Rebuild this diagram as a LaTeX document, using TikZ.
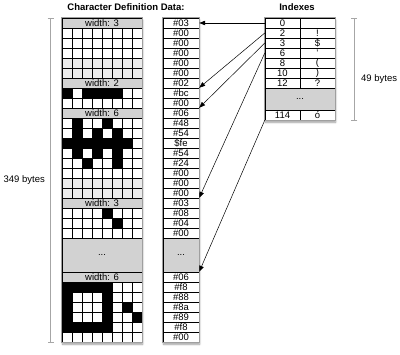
\documentclass[tikz,border=0pt]{standalone}
\usepackage{fontspec}
\setmainfont{Liberation Sans}
\usepackage{xcolor}
\usepackage{tikz}
\usetikzlibrary{arrows.meta,positioning,shadows.blur}

\newcommand\cellfont{\fontsize{9.5}{10}\selectfont}

\tikzset{
  colframe/.style={draw=gray!75,line width=0.8pt,fill=white,inner sep=0pt,
    blur shadow={shadow xshift=0.6pt,shadow yshift=-2.2pt,shadow blur steps=6,shadow blur radius=2pt}},
  frameline/.style={draw=gray!75,line width=0.8pt},
  cellline/.style={black,line width=0.45pt},
  hdr/.style={draw,line width=0.45pt,fill=gray!35,minimum width=80pt,minimum height=10pt,inner sep=0pt,font=\cellfont},
  byterow/.style={draw,line width=0.45pt,fill=white,minimum width=36pt,minimum height=10pt,inner sep=0pt,font=\cellfont},
  idxrow/.style={draw,line width=0.45pt,fill=white,minimum width=35pt,minimum height=10pt,inner sep=0pt,font=\cellfont},
  dotsbox/.style={draw,line width=0.45pt,fill=gray!35,inner sep=0pt,font=\cellfont},
  ptr/.style={black,line width=0.5pt,-{Triangle[length=6pt,width=4.5pt]}},
  dimline/.style={draw=gray!70,line width=0.8pt,{Bar[width=6pt]}-{Bar[width=6pt]}},
  title/.style={font=\fontsize{9.5}{10}\selectfont\bfseries,inner sep=0pt}
}

\begin{document}
\begin{tikzpicture}[x=1pt,y=-1pt]
\useasboundingbox (0,0) rectangle (400,355);

% frames
\node[colframe,minimum width=80pt,minimum height=324pt] (chars) at (102,180) {};
\node[colframe,minimum width=36pt,minimum height=324pt] (bytes) at (181,180) {};
\node[colframe,minimum width=70pt,minimum height=102pt] (idx) at (300,69) {};

% glyph bitmaps
\fill[gray!15] (62,58) rectangle (142,78);
\fill[gray!15] (62,178) rectangle (142,198);
\foreach \y/\cs in {88/{0,2,3,4,5},118/{1,4},128/{1,3,5},138/{0,1,2,3,4,5,6},148/{1,3,5},158/{2,5},
                    208/{4},218/{5},282/{0,1,2,3,4},292/{0,4},302/{0,4,6},312/{0,4,7},322/{0,1,2,3,4}}{
  \foreach \c in \cs
    \fill ({62+10*\c},\y) rectangle ++(10,10);
}
\foreach \x in {62,72,...,142}{
  \draw[cellline] (\x,18) -- (\x,238);
  \draw[cellline] (\x,272) -- (\x,342);
}
\foreach \y in {28,38,...,238}
  \draw[cellline] (62,\y) -- (142,\y);
\foreach \y in {282,292,...,342}
  \draw[cellline] (62,\y) -- (142,\y);
\node[hdr] (w1) at (102,23) {width: 3};
\node[hdr] (w2) at (102,83) {width: 2};
\node[hdr] (w3) at (102,113) {width: 6};
\node[hdr] (w4) at (102,203) {width: 3};
\node[dotsbox,minimum width=80pt,minimum height=34pt] (cdots) at (102,255) {...};
\node[hdr] (w5) at (102,277) {width: 6};

% data bytes
\foreach \t [count=\i from 0] in {\#03,\#00,\#00,\#00,\#00,\#00,\#02,\#bc,\#00,\#06,\#48,\#54,\$fe,\#54,\#24,\#00,\#00,\#00,\#03,\#08,\#04,\#00}
  \node[byterow] (b\i) at (181,{23+10*\i}) {\t};
\node[dotsbox,minimum width=36pt,minimum height=34pt] (bdots) at (181,255) {...};
\foreach \t [count=\i from 22] in {\#06,\#f8,\#88,\#8a,\#89,\#f8,\#00}
  \node[byterow] (b\i) at (181,{277+10*(\i-22)}) {\t};

% index table
\foreach \n/\ch [count=\i from 0] in {0/{},2/!,3/\$,6/',8/(,10/),12/?}{
  \node[idxrow] (i\n) at (282.5,{23+10*\i}) {\n};
  \node[idxrow] (c\n) at (317.5,{23+10*\i}) {\ch};
}
\node[dotsbox,minimum width=70pt,minimum height=22pt] (idots) at (300,99) {...};
\node[idxrow] (i114) at (282.5,115) {114};
\node[idxrow] (c114) at (317.5,115) {ó};

% outlines again on top
\draw[frameline] (chars.north west) rectangle (chars.south east);
\draw[frameline] (bytes.north west) rectangle (bytes.south east);
\draw[frameline] (idx.north west) rectangle (idx.south east);

% pointers
\draw[ptr] (i0.west) -- (b0.east);
\draw[ptr] (i2.west) -- (b7.north east);
\draw[ptr] (i3.west) -- (b9.north east);
\draw[ptr] (i6.west) -- (b18.north east);
\draw[ptr] (i114.south west) -- (b22.north east);

% sizes
\draw[dimline] ([xshift=-11pt]chars.north west) -- ([xshift=-11pt]chars.south west)
  node[midway,left=2pt,font=\cellfont] {349 bytes};
\draw[dimline] ([xshift=19pt]idx.north east) -- ([xshift=19pt]idx.south east)
  node[pos=0.6,right=3pt,font=\cellfont] {49 bytes};

\node[title] (ttlchars) at (126,7) {Character Definition Data:};
\node[title] (ttlidx) at (297,7) {Indexes};
\end{tikzpicture}
\end{document}
